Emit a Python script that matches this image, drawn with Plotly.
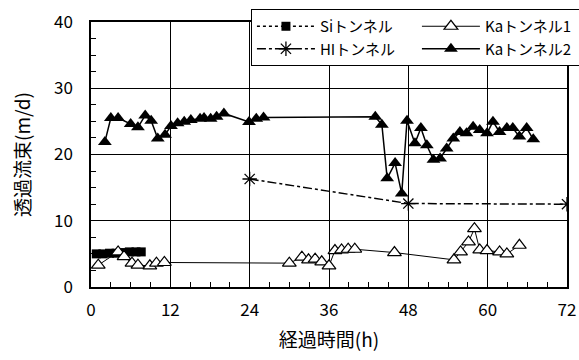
import plotly.graph_objects as go

si_x = [0.8, 1.8, 2.8, 3.8, 4.8, 5.8, 6.8, 7.6]
si_y = [5.0, 5.0, 5.1, 5.1, 5.2, 5.3, 5.3, 5.3]

hi_x = [24, 48, 72]
hi_y = [16.3, 12.6, 12.5]

ka1_x = [1.1, 4.1, 5.0, 6.2, 7.1, 8.9, 9.9, 11.1,
         30.0, 31.9, 32.9, 33.9, 34.9, 36.0, 36.9, 37.9, 38.9, 39.9, 45.9,
         54.9, 55.9, 57.1, 58.0, 58.8, 59.9, 61.8, 62.9, 64.8]
ka1_y = [3.3, 5.3, 4.6, 3.6, 3.3, 3.2, 3.6, 3.7,
         3.6, 4.5, 4.1, 4.2, 3.8, 3.2, 5.5, 5.6, 5.7, 5.7, 5.2,
         4.1, 5.3, 6.8, 8.8, 5.6, 5.5, 5.3, 5.0, 6.3]

ka2_x = [2.1, 3.0, 4.1, 6.0, 7.1, 8.2, 9.1, 10.1, 11.2, 12.1, 13.1, 14.1, 15.1, 16.5,
         17.1, 18.1, 19.0, 20.1, 23.9, 25.0, 26.1, 43.0, 44.0, 44.8, 46.0, 47.0, 47.8,
         49.0, 49.9, 50.8, 51.8, 52.8, 53.8, 54.8, 55.8, 56.8, 57.8, 58.8, 59.9, 60.8,
         61.8, 62.9, 63.8, 64.8, 65.9, 66.9]
ka2_y = [21.9, 25.5, 25.5, 24.6, 24.1, 25.9, 25.1, 22.4, 23.0, 24.3, 24.7, 24.95, 25.2, 25.4,
         25.5, 25.4, 25.7, 26.2, 24.9, 25.4, 25.6, 25.7, 24.5, 16.4, 18.7, 14.1, 25.1,
         21.7, 24.0, 21.4, 19.2, 19.4, 20.9, 22.4, 23.4, 23.2, 24.2, 23.7, 23.2, 24.95,
         23.4, 24.0, 24.0, 22.7, 24.0, 22.3]

x_ticks = [0, 12, 24, 36, 48, 60, 72]
y_ticks = [0, 10, 20, 30, 40]

FONT = "Noto Sans CJK JP"

fig = go.Figure()
fig.add_trace(go.Scatter(
    x=si_x, y=si_y, name="Siトンネル", mode="lines+markers",
    line=dict(color="black", width=1.5, dash="dot"),
    marker=dict(symbol="square", size=9, color="black")))
fig.add_trace(go.Scatter(
    x=ka1_x, y=ka1_y, name="Kaトンネル1", mode="lines+markers",
    line=dict(color="black", width=1),
    marker=dict(symbol="triangle-up", size=12, color="white",
                line=dict(color="black", width=1.2))))
fig.add_trace(go.Scatter(
    x=hi_x, y=hi_y, name="HIトンネル", mode="lines+markers",
    line=dict(color="black", width=1.5, dash="dashdot"),
    marker=dict(symbol="asterisk-open", size=12, color="black",
                line=dict(color="black", width=1.3))))
fig.add_trace(go.Scatter(
    x=ka2_x, y=ka2_y, name="Kaトンネル2", mode="lines+markers",
    line=dict(color="black", width=1.5),
    marker=dict(symbol="triangle-up", size=12, color="black")))

axis_common = dict(
    showline=True, linecolor="black", linewidth=1.5, mirror=True,
    showgrid=True, gridcolor="black", gridwidth=1,
    ticks="inside", ticklen=5, tickcolor="black",
    zeroline=False, automargin=False,
    tickfont=dict(family=FONT, size=17, color="black"),
)

fig.update_xaxes(**axis_common, range=[0, 72], tickvals=x_ticks,
                 ticktext=[str(v) for v in x_ticks],
                 ticklabelstandoff=7,
                 minor=dict(dtick=3, ticks="inside", ticklen=5, tickcolor="black", showgrid=False),
                 title=dict(text="経過時間(h)", font=dict(family=FONT, size=19, color="black"), standoff=14))
fig.update_yaxes(**axis_common, range=[0, 40], tickvals=y_ticks,
                 ticktext=[str(v) for v in y_ticks],
                 minor=dict(dtick=2.5, ticks="inside", ticklen=5, tickcolor="black", showgrid=False),
                 ticklabelstandoff=13,
                 title=dict(text="透過流束(m/d)", font=dict(family=FONT, size=19, color="black"), standoff=18))

fig.update_layout(
    width=579, height=360,
    margin=dict(l=91, r=12, t=22, b=73, autoexpand=False),
    paper_bgcolor="white", plot_bgcolor="white",
    font=dict(family=FONT, size=14, color="black"),
    legend=dict(
        orientation="h", x=0.336, y=1.049, xanchor="left", yanchor="top",
        bgcolor="white", bordercolor="black", borderwidth=1,
        entrywidth=92, entrywidthmode="pixels", itemwidth=58,
        font=dict(family=FONT, size=15, color="black"),
        traceorder="normal", tracegroupgap=0,
    ),
)

fig.write_html("out.html", config={"displayModeBar": False},
               post_script="document.body.style.margin='0';document.body.style.overflow='hidden';")
